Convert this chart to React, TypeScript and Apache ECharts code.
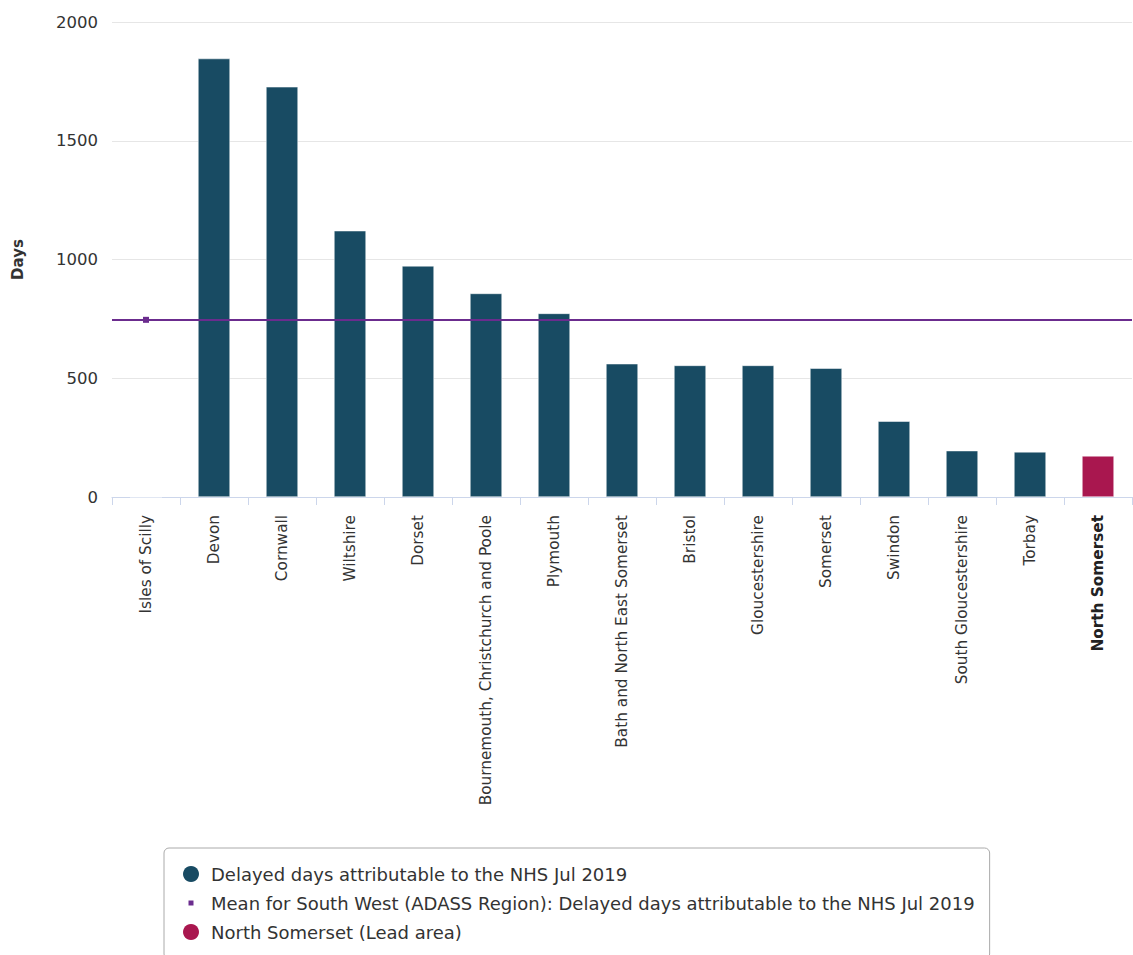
import React, { useEffect, useRef } from "react";
import * as echarts from "echarts";

const categories = [
  "Isles of Scilly",
  "Devon",
  "Cornwall",
  "Wiltshire",
  "Dorset",
  "Bournemouth, Christchurch and Poole",
  "Plymouth",
  "Bath and North East Somerset",
  "Bristol",
  "Gloucestershire",
  "Somerset",
  "Swindon",
  "South Gloucestershire",
  "Torbay",
  "North Somerset",
];

const delayedDays = [0, 1846, 1727, 1121, 973, 857, 773, 561, 554, 554, 542, 319, 195, 190, 173];
const leadArea = "North Somerset";
const meanValue = 746;
const yTicks = { min: 0, max: 2000, interval: 500 };

const seriesNames = {
  main: "Delayed days attributable to the NHS Jul 2019",
  mean: "Mean for South West (ADASS Region): Delayed days attributable to the NHS Jul 2019",
  lead: "North Somerset (Lead area)",
};

const BAR = "#184b63";
const LEAD = "#a9174f";
const MEAN = "#6b2c8e";

export default function App() {
  const ref = useRef<HTMLDivElement>(null);
  useEffect(() => {
    if (!ref.current) return;
    const chart = echarts.init(ref.current, undefined, { renderer: "svg" });
    const leadIdx = categories.indexOf(leadArea);
    const mainData = delayedDays.map((v, i) => (i === leadIdx ? "-" : v));
    const leadData = delayedDays.map((v, i) => (i === leadIdx ? v : "-"));
    const meanData = categories.map((_, i) => (i === 0 ? meanValue : "-"));
    chart.setOption({
      animation: false,
      textStyle: { fontFamily: "DejaVu Sans" },
      grid: { left: 112, right: 1, top: 22, bottom: 458, containLabel: false },
      xAxis: {
        type: "category",
        data: categories.map((c) =>
          c === leadArea ? { value: c, textStyle: { fontWeight: "bold", color: "#222" } } : c
        ),
        axisLine: { lineStyle: { color: "#ccd6eb", width: 1 } },
        axisTick: { show: true, length: 8, lineStyle: { color: "#ccd6eb" } },
        axisLabel: { rotate: 90, interval: 0, fontSize: 15.3, color: "#333", margin: 18 },
        splitLine: { show: false },
      },
      yAxis: {
        type: "value",
        min: yTicks.min,
        max: yTicks.max,
        interval: yTicks.interval,
        name: "Days",
        nameLocation: "middle",
        nameGap: 87,
        nameTextStyle: { fontWeight: "bold", fontSize: 15, color: "#333" },
        axisLine: { show: false },
        axisTick: { show: false },
        axisLabel: {
          fontSize: 16.5,
          color: "#333",
          margin: 14,
          formatter: (v: number) => String(v),
        },
        splitLine: { lineStyle: { color: "#e6e6e6", width: 1 } },
      },
      legend: {
        orient: "vertical",
        left: 164,
        top: 848,
        height: 90,
        padding: [17, 15, 18, 12],
        itemGap: 11,
        itemWidth: 30,
        itemHeight: 16,
        borderColor: "#aaaaaa",
        borderWidth: 1,
        borderRadius: 5,
        textStyle: { fontSize: 18, color: "#333", fontFamily: "DejaVu Sans" },
        itemStyle: { borderWidth: 0 },
        data: [
          { name: seriesNames.main, icon: "circle" },
          {
            name: seriesNames.mean,
            icon: "path://M0,0 M30,16 M12.5,5.5 L17.5,5.5 L17.5,10.5 L12.5,10.5 Z",
          },
          { name: seriesNames.lead, icon: "circle" },
        ],
      },
      series: [
        {
          name: seriesNames.main,
          type: "bar",
          stack: "a",
          barWidth: 32,
          data: mainData,
          itemStyle: { color: BAR, borderColor: "#ffffff", borderWidth: 0.5 },
        },
        {
          name: seriesNames.lead,
          type: "bar",
          stack: "a",
          barWidth: 32,
          data: leadData,
          itemStyle: { color: LEAD, borderColor: "#ffffff", borderWidth: 0.5 },
        },
        {
          name: seriesNames.mean,
          type: "line",
          data: meanData,
          symbol: "rect",
          symbolSize: 6,
          itemStyle: { color: MEAN, borderWidth: 0 },
          lineStyle: { color: MEAN, width: 2 },
          z: 5,
          markLine: {
            silent: true,
            symbol: ["none", "none"],
            label: { show: false },
            lineStyle: { color: MEAN, width: 2, type: "solid" },
            data: [{ yAxis: meanValue }],
          },
        },
      ],
    });
    return () => chart.dispose();
  }, []);
  return (
    <div
      ref={ref}
      style={{ position: "fixed", left: 0, top: 0, width: 1133, height: 955, background: "#fff" }}
    />
  );
}
